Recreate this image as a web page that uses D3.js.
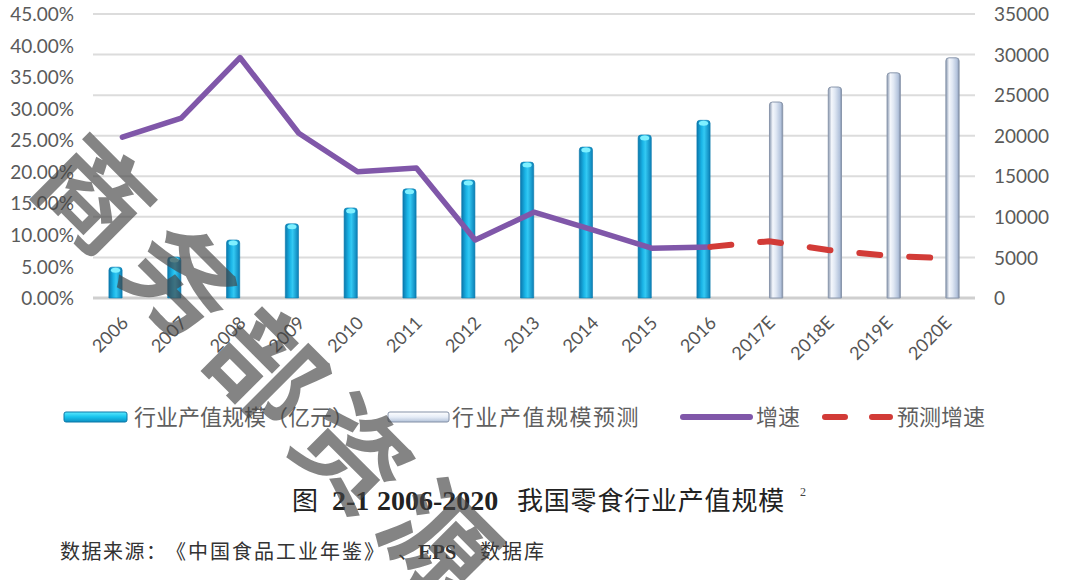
<!DOCTYPE html>
<html><head><meta charset="utf-8">
<script src="https://cdn.jsdelivr.net/npm/d3@7/dist/d3.min.js"></script>
<style>body{margin:0;background:#fff}svg{display:block}</style></head>
<body><svg id="c" width="1080" height="580"></svg>
<script>
const categories = ["2006","2007","2008","2009","2010","2011","2012","2013","2014","2015","2016","2017E","2018E","2019E","2020E"];
const outputValues = [3800,5050,7150,9150,11100,13450,14550,16750,18600,20100,21900,null,null,null,null];
const forecastValues = [null,null,null,null,null,null,null,null,null,null,null,24150,26000,27750,29600];
const growthRates = [0.255,0.285,0.381,0.261,0.200,0.206,0.092,0.136,0.108,0.079,0.081,null,null,null,null];
const forecastGrowthRates = [null,null,null,null,null,null,null,null,null,null,0.081,0.090,0.076,0.067,0.063];
const leftTicks = [0,0.05,0.10,0.15,0.20,0.25,0.30,0.35,0.40,0.45];
const rightTicks = [0,5000,10000,15000,20000,25000,30000,35000];
const legendLabels = ["行业产值规模（亿元）","行业产值规模预测","增速","预测增速"];
const watermarkText = "商务部资源";

const svg = d3.select("#c");
svg.append("rect").attr("width",1080).attr("height",580).attr("fill","#fff");
const defs = svg.append("defs");

const gA = defs.append("linearGradient").attr("id","gA").attr("x1","0").attr("x2","1").attr("y1","0").attr("y2","0");
[[0,"#0a78ad"],[0.35,"#1ab4e6"],[0.55,"#33c9f3"],[1,"#0a7fb6"]].forEach(s=>gA.append("stop").attr("offset",s[0]).attr("stop-color",s[1]));
const gF = defs.append("linearGradient").attr("id","gF").attr("x1","0").attr("x2","1").attr("y1","0").attr("y2","0");
[[0,"#8796ae"],[0.25,"#f4f7fc"],[0.5,"#dfe7f3"],[0.85,"#b3c3dc"],[1,"#7d8ca6"]].forEach(s=>gF.append("stop").attr("offset",s[0]).attr("stop-color",s[1]));
const gLA = defs.append("linearGradient").attr("id","gLA").attr("x1","0").attr("x2","0").attr("y1","0").attr("y2","1");
[[0,"#5be9ff"],[0.5,"#17c3ec"],[1,"#0c8fc2"]].forEach(s=>gLA.append("stop").attr("offset",s[0]).attr("stop-color",s[1]));
const gLF = defs.append("linearGradient").attr("id","gLF").attr("x1","0").attr("x2","0").attr("y1","0").attr("y2","1");
[[0,"#ffffff"],[0.5,"#e6edf7"],[1,"#b2c1d8"]].forEach(s=>gLF.append("stop").attr("offset",s[0]).attr("stop-color",s[1]));

const x = d3.scaleBand().domain(categories).range([93,975]);
const sub = d3.scaleBand().domain(["a","f"]).range([-13.5,13.5]).paddingInner(0.04);
const yL = d3.scaleLinear().domain([0,0.45]).range([298,14]);
const yR = d3.scaleLinear().domain([0,35000]).range([298,14]);
const cx = d => x(d) + x.bandwidth()/2;

// gridlines
svg.append("g").selectAll("line").data(rightTicks).join("line")
  .attr("x1",93).attr("x2",975).attr("y1",d=>yR(d)).attr("y2",d=>yR(d))
  .attr("stroke",d=>d===0?"#cfcfcf":"#dcdcdc").attr("stroke-width",d=>d===0?3:2);

// axes
const axL = svg.append("g").attr("transform","translate(78,0)")
  .call(d3.axisLeft(yL).tickValues(leftTicks).tickFormat(d3.format(".2%")).tickSize(0));
axL.select(".domain").remove();
axL.selectAll("text").attr("font-family","Lato, 'Liberation Sans', sans-serif").attr("font-size",19).attr("fill","#5a5a5a").attr("x",-4).attr("dy","0.35em");
const axR = svg.append("g").attr("transform","translate(990,0)")
  .call(d3.axisRight(yR).tickValues(rightTicks).tickFormat(d3.format("d")).tickSize(0));
axR.select(".domain").remove();
axR.selectAll("text").attr("font-family","Lato, 'Liberation Sans', sans-serif").attr("font-size",19).attr("fill","#5a5a5a").attr("x",4).attr("dy","0.35em");
const axB = svg.append("g").attr("transform","translate(0,298)")
  .call(d3.axisBottom(x).tickSize(0));
axB.select(".domain").remove();
axB.selectAll("text").attr("font-family","Lato, 'Liberation Sans', sans-serif").attr("font-size",18).attr("fill","#555")
  .attr("text-anchor","end").attr("dy",0).attr("y",0)
  .attr("transform","translate(7,26) rotate(-45)");

// bars
const barsA = categories.map((c,i)=>({c,v:outputValues[i]})).filter(d=>d.v!=null);
const barsF = categories.map((c,i)=>({c,v:forecastValues[i]})).filter(d=>d.v!=null);
const bw = sub.bandwidth();
const gb = svg.append("g");
gb.selectAll(".ba").data(barsA).join("path").attr("class","ba")
  .attr("d",d=>{const x0=cx(d.c)+sub("a"), y0=yR(d.v), y1=yR(0); return `M${x0},${y1}V${y0+3}Q${x0},${y0} ${x0+3},${y0}H${x0+bw-3}Q${x0+bw},${y0} ${x0+bw},${y0+3}V${y1}Z`;})
  .attr("fill","url(#gA)").attr("stroke","#0a79ab").attr("stroke-width",0.6);
gb.selectAll(".ca").data(barsA).join("ellipse").attr("class","ca")
  .attr("cx",d=>cx(d.c)+sub("a")+bw/2).attr("cy",d=>yR(d.v)+3).attr("rx",bw/2-2).attr("ry",2.5).attr("fill","#7ff0ff");
gb.selectAll(".bf").data(barsF).join("path").attr("class","bf")
  .attr("d",d=>{const x0=cx(d.c)+sub("f"), y0=yR(d.v), y1=yR(0); return `M${x0},${y1}V${y0+3}Q${x0},${y0} ${x0+3},${y0}H${x0+bw-3}Q${x0+bw},${y0} ${x0+bw},${y0+3}V${y1}Z`;})
  .attr("fill","url(#gF)").attr("stroke","#8a97ac").attr("stroke-width",1);

// lines
const line = d3.line().defined(d=>d.v!=null).x(d=>cx(d.c)).y(d=>yL(d.v));
svg.append("path").datum(categories.map((c,i)=>({c,v:growthRates[i]})))
  .attr("d",line).attr("fill","none").attr("stroke","#8057a9").attr("stroke-width",5.5).attr("stroke-linejoin","round").attr("stroke-linecap","round");
svg.append("path").datum(categories.map((c,i)=>({c,v:forecastGrowthRates[i]})))
  .attr("d",line).attr("fill","none").attr("stroke","#d23b37").attr("stroke-width",6).attr("stroke-linecap","round").attr("stroke-dasharray","21,29");

// legend
const lg = svg.append("g").attr("font-family","'Noto Sans CJK SC', sans-serif").attr("font-size",22).attr("fill","#5f5f5f");
lg.append("rect").attr("x",64).attr("y",412).attr("width",63).attr("height",10).attr("rx",2).attr("fill","url(#gLA)").attr("stroke","#0b78a8").attr("stroke-width",1);
lg.append("text").attr("x",134).attr("y",425).text(legendLabels[0]);
lg.append("rect").attr("x",388).attr("y",412).attr("width",61).attr("height",10).attr("rx",2).attr("fill","url(#gLF)").attr("stroke","#8390a6").attr("stroke-width",1);
lg.append("text").attr("x",452).attr("y",425).attr("letter-spacing",1.5).text(legendLabels[1]);
lg.append("line").attr("x1",683).attr("x2",750).attr("y1",417).attr("y2",417).attr("stroke","#8057a9").attr("stroke-width",6).attr("stroke-linecap","round");
lg.append("text").attr("x",756).attr("y",425).text(legendLabels[2]);
lg.append("line").attr("x1",825).attr("x2",890).attr("y1",417).attr("y2",417).attr("stroke","#d23b37").attr("stroke-width",6).attr("stroke-linecap","round").attr("stroke-dasharray","20,27");
lg.append("text").attr("x",897).attr("y",425).text(legendLabels[3]);

// caption
const cap = svg.append("text").attr("y",510).attr("fill","#222");
cap.append("tspan").attr("x",292).attr("font-size",26).attr("font-family","'Noto Sans CJK SC', sans-serif").text("图");
cap.append("tspan").attr("x",332).attr("font-size",28).attr("font-family","'Liberation Serif', serif").attr("font-weight","bold").text("2-1");
cap.append("tspan").attr("x",377).attr("font-size",28).attr("font-family","'Liberation Serif', serif").attr("font-weight","bold").text("2006-2020");
cap.append("tspan").attr("x",517).attr("font-size",26).attr("letter-spacing",0.8).attr("font-family","'Noto Sans CJK SC', sans-serif").text("我国零食行业产值规模");
svg.append("text").attr("x",800).attr("y",496).attr("font-size",12).attr("fill","#444").attr("font-family","'Liberation Serif', serif").text("2");

const src = svg.append("text").attr("y",559).attr("fill","#333").attr("font-size",20).attr("font-family","'Noto Sans CJK SC', sans-serif");
src.append("tspan").attr("x",60).attr("letter-spacing",1.5).text("数据来源：");
src.append("tspan").attr("x",166).attr("letter-spacing",2).text("《中国食品工业年鉴》");
src.append("tspan").attr("x",398).text("、");
src.append("tspan").attr("x",418).attr("font-family","'Liberation Serif', serif").attr("font-weight","bold").attr("font-size",21).text("EPS");
src.append("tspan").attr("x",480).attr("letter-spacing",2).text("数据库");

// watermark
svg.append("text").attr("transform","translate(28,185) rotate(45)")
  .attr("font-family","'Noto Sans CJK SC', sans-serif").attr("font-weight","bold").attr("font-size",108).attr("letter-spacing",14)
  .attr("fill","#444").attr("fill-opacity",0.66).text(watermarkText);
</script></body></html>
